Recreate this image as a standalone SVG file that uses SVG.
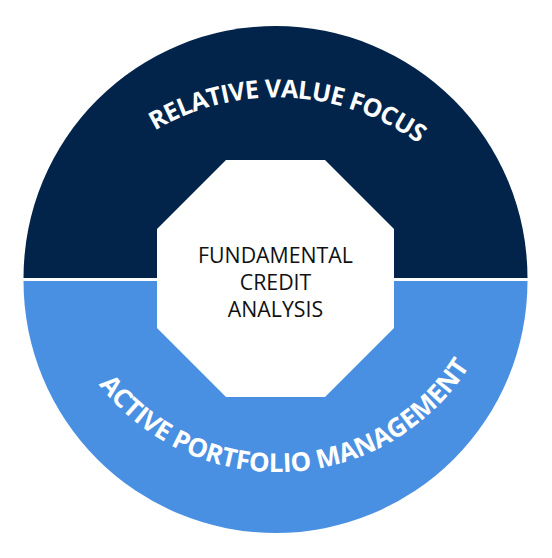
<svg xmlns="http://www.w3.org/2000/svg" width="552" height="558" viewBox="0 0 552 558">
<style>
.ring-text{font-family:"Open Sans","Liberation Sans",sans-serif;font-weight:700;fill:#ffffff;}
.center-text{font-family:"Open Sans","Liberation Sans",sans-serif;font-weight:400;font-size:21.3px;fill:#111111;text-anchor:middle;}
</style>
<defs>
<path id="topArc" d="M68.3,218.1 A240,240 0 0 1 495.5,239.0" fill="none"/>
<path id="bottomArc" d="M68.8,333.3 A226.6,226.6 0 0 0 494.2,312.5" fill="none"/>
</defs>
<rect width="552" height="558" fill="#ffffff"/>
<g id="node-relative-value">
<path d="M23.5,278 A252,252 0 0 1 527.5,278 Z" fill="#02244a"/>
<text class="ring-text" font-size="25" letter-spacing="-0.6"><textPath href="#topArc" startOffset="50%" text-anchor="middle">RELATIVE VALUE FOCUS</textPath></text>
</g>
<g id="node-active-portfolio">
<path d="M23.5,281 A252,252 0 0 0 527.5,281 Z" fill="#4a90e2"/>
<text class="ring-text" font-size="26" letter-spacing="-0.25"><textPath href="#bottomArc" startOffset="50%" text-anchor="middle">ACTIVE PORTFOLIO MANAGEMENT</textPath></text>
</g>
<g id="node-fundamental">
<polygon points="226,160 325,160 394,229 394,328 325,397 226,397 157,328 157,229" fill="#ffffff"/>
<text class="center-text" x="275.5" y="263">FUNDAMENTAL</text>
<text class="center-text" x="275.5" y="290">CREDIT</text>
<text class="center-text" x="275.5" y="317">ANALYSIS</text>
</g>
<g id="connectors"></g>
</svg>
